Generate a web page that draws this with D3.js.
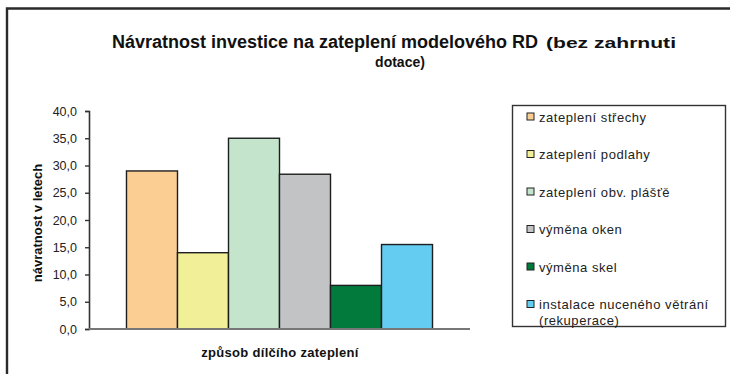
<!DOCTYPE html>
<html>
<head>
<meta charset="utf-8">
<script src="https://cdn.jsdelivr.net/npm/d3@7"></script>
<style>
  html, body { margin: 0; padding: 0; background: #fff; }
  svg { display: block; font-family: "Liberation Sans", Arial, sans-serif; }
</style>
</head>
<body>
<svg id="chart" width="730" height="374"></svg>
<script>
// Payback period of each insulation measure (years)
const categories = [
  "zateplení střechy",
  "zateplení podlahy",
  "zateplení obv. plášťě",
  "výměna oken",
  "výměna skel",
  "instalace nuceného větrání (rekuperace)"
];
const values = [29.0, 14.0, 35.0, 28.4, 8.0, 15.5];
const colors = ["#FBCF94", "#F1EF97", "#C5E4CC", "#C2C3C5", "#017A3B", "#64CBF1"];
const yTicks = [0, 5, 10, 15, 20, 25, 30, 35, 40];
const legendLines = [
  ["zateplení střechy"],
  ["zateplení podlahy"],
  ["zateplení obv. plášťě"],
  ["výměna oken"],
  ["výměna skel"],
  ["instalace nuceného větrání", "(rekuperace)"]
];

const svg = d3.select("#chart");

// outer frame (open to the right and bottom)
svg.append("path")
  .attr("d", "M7,400 V8.5 H740")
  .attr("fill", "none")
  .attr("stroke", "#2a2a2a")
  .attr("stroke-width", 2.4);

const plot = { left: 89, right: 470, top: 111, bottom: 329 };

const x = d3.scaleBand()
  .domain(categories)
  .range([plot.left, plot.right])
  .paddingInner(0)
  .paddingOuter(0.735);

const y = d3.scaleLinear()
  .domain([0, 40])
  .range([plot.bottom, plot.top]);

// bars
svg.append("g")
  .selectAll("rect")
  .data(categories)
  .join("rect")
  .attr("x", d => x(d))
  .attr("y", (d, i) => y(values[i]))
  .attr("width", x.bandwidth())
  .attr("height", (d, i) => y(0) - y(values[i]))
  .attr("fill", (d, i) => colors[i])
  .attr("stroke", "#1e1e1e")
  .attr("stroke-width", 1.4);

// y axis
const yAxis = d3.axisLeft(y)
  .tickValues(yTicks)
  .tickSize(4)
  .tickPadding(8)
  .tickFormat(d => d3.format(".1f")(d).replace(".", ","));

const gy = svg.append("g")
  .attr("transform", `translate(${plot.left},0)`)
  .call(yAxis);
gy.select(".domain").attr("stroke", "#333").attr("stroke-width", 1.6);
gy.selectAll(".tick line").attr("stroke", "#333").attr("stroke-width", 1.4);
gy.selectAll(".tick text")
  .attr("fill", "#222")
  .style("font-size", "12.5px")
  .style("font-family", "'Liberation Sans', Arial, sans-serif");

// x axis line
svg.append("line")
  .attr("x1", plot.left).attr("x2", plot.right)
  .attr("y1", plot.bottom).attr("y2", plot.bottom)
  .attr("stroke", "#777")
  .attr("stroke-width", 2);

// title
svg.append("text")
  .attr("x", 112).attr("y", 48)
  .attr("fill", "#111")
  .style("font-size", "18px")
  .style("font-weight", "bold")
  .text("Návratnost investice na zateplení modelového RD");
svg.append("text")
  .attr("x", 546).attr("y", 48)
  .attr("fill", "#111")
  .attr("textLength", 130)
  .attr("lengthAdjust", "spacingAndGlyphs")
  .style("font-size", "15px")
  .style("font-weight", "bold")
  .text("(bez zahrnuti");
svg.append("text")
  .attr("x", 400).attr("y", 67)
  .attr("text-anchor", "middle")
  .attr("fill", "#111")
  .style("font-size", "14px")
  .style("font-weight", "bold")
  .text("dotace)");

// axis titles
svg.append("text")
  .attr("transform", `translate(42,${(plot.top + plot.bottom) / 2 + 3}) rotate(-90)`)
  .attr("text-anchor", "middle")
  .attr("fill", "#111")
  .style("font-size", "13px")
  .style("font-weight", "bold")
  .text("návratnost v letech");

svg.append("text")
  .attr("x", 280).attr("y", 357)
  .attr("text-anchor", "middle")
  .attr("fill", "#111")
  .style("font-size", "13px")
  .style("font-weight", "bold")
  .style("letter-spacing", "0.3px")
  .text("způsob dílčího zateplení");

// legend
const legend = svg.append("g");
legend.append("rect")
  .attr("x", 512.5).attr("y", 105.5)
  .attr("width", 213).attr("height", 221)
  .attr("fill", "#fff")
  .attr("stroke", "#333")
  .attr("stroke-width", 1.4);

const item = legend.selectAll("g.item")
  .data(legendLines)
  .join("g")
  .attr("class", "item")
  .attr("transform", (d, i) => `translate(527,${117 + i * 37.5})`);

item.append("rect")
  .attr("x", 0).attr("y", -4)
  .attr("width", 7).attr("height", 7)
  .attr("fill", (d, i) => colors[i])
  .attr("stroke", "#222")
  .attr("stroke-width", 1);

item.append("text")
  .attr("fill", "#222")
  .style("font-size", "13px")
  .style("letter-spacing", "0.55px")
  .selectAll("tspan")
  .data(d => d)
  .join("tspan")
  .attr("x", 12)
  .attr("y", (d, i) => 4.5 + i * 16)
  .text(d => d);
</script>
</body>
</html>
